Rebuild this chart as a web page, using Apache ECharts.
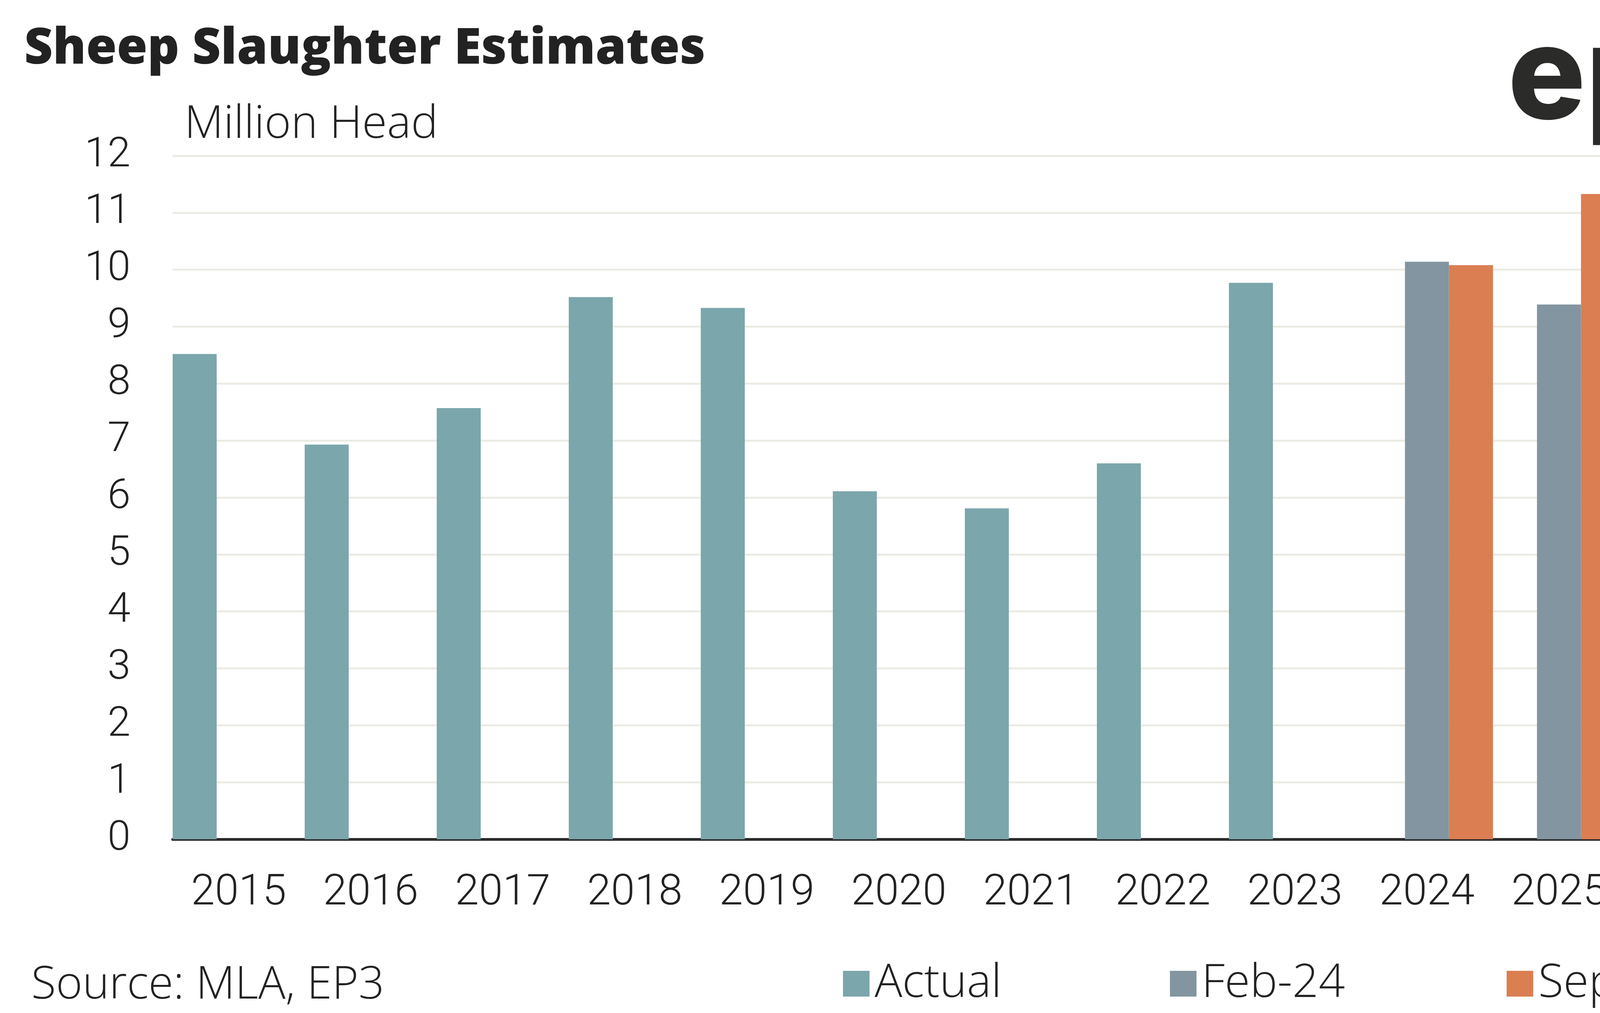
<!DOCTYPE html>
<html>
<head>
<meta charset="utf-8">
<script src="https://cdn.jsdelivr.net/npm/echarts@6/dist/echarts.min.js"></script>
<style>
html,body{margin:0;padding:0;background:#fff;overflow:hidden;}
#c{width:4675px;height:2594px;}
</style>
</head>
<body>
<div id="c"></div>
<script>
const categories = ['2015','2016','2017','2018','2019','2020','2021','2022','2023','2024','2025','2026'];
const actual = [8.52, 6.93, 7.57, 9.52, 9.33, 6.11, 5.81, 6.60, 9.77, null, null, null];
const feb24 = [null, null, null, null, null, null, null, null, null, 10.14, 9.39, 8.06];
const sep24 = [null, null, null, null, null, null, null, null, null, 10.08, 11.33, 11.15];
const seriesNames = ['Actual', 'Feb-24', 'Sep-24'];
const yTicks = [0,1,2,3,4,5,6,7,8,9,10,11,12];

const NUMFONT = 'Roboto';
const WORDFONT = 'Open Sans';
const TXT = '#222222';
const legendLefts = [2153, 2990, 3852];
const chart = echarts.init(document.getElementById('c'));
chart.setOption({
  backgroundColor: '#ffffff',
  animation: false,
  grid: { left: 442, right: 177, top: 399, bottom: 2594 - 2149, containLabel: false },
  legend: seriesNames.map((n, i) => ({
    left: legendLefts[i], top: 2455,
    itemWidth: 68, itemHeight: 66,
    icon: 'rect',
    textStyle: { fontFamily: WORDFONT, fontWeight: 300, fontSize: 118, color: TXT, padding: [0,0,0,8] },
    data: [n]
  })),
  xAxis: {
    type: 'category',
    data: categories,
    axisLine: { show: true, lineStyle: { color: '#2b2b2b', width: 7 } },
    axisTick: { show: false },
    axisLabel: { fontFamily: NUMFONT, fontWeight: 300, fontSize: 110, color: TXT, margin: 84 },
    splitLine: { show: false }
  },
  yAxis: {
    type: 'value', min: 0, max: 12, interval: 1,
    axisLine: { show: false }, axisTick: { show: false },
    axisLabel: { fontFamily: NUMFONT, fontWeight: 300, fontSize: 106, color: TXT, margin: 108,
      formatter: v => yTicks.includes(v) ? String(v) : '' },
    splitLine: { show: true, lineStyle: { color: '#ecebe3', width: 5 } }
  },
  series: [
    { name: seriesNames[0], type: 'bar', data: actual, barGap: '0%', barCategoryGap: '0%', itemStyle: { color: '#7ba6ab' } },
    { name: seriesNames[1], type: 'bar', data: feb24, barGap: '0%', barCategoryGap: '0%', itemStyle: { color: '#8295a0' } },
    { name: seriesNames[2], type: 'bar', data: sep24, barGap: '0%', barCategoryGap: '0%', itemStyle: { color: '#db7e52' } }
  ],
  graphic: [
    { type: 'text', left: 62, top: 63, style: { text: 'Sheep Slaughter Estimates', fill: TXT, fontFamily: WORDFONT, fontWeight: 800, fontSize: 127 } },
    { type: 'text', left: 472, top: 262, style: { text: 'Million Head', fill: TXT, fontFamily: WORDFONT, fontWeight: 300, fontSize: 116 } },
    { type: 'text', left: 80, top: 2466, style: { text: 'Source: MLA, EP3', fill: TXT, fontFamily: WORDFONT, fontWeight: 300, fontSize: 116 } },
    { type: 'text', left: 3860, top: 38, style: { text: 'ep3', fill: '#2b2b29', fontFamily: 'Inter', fontWeight: 800, fontSize: 332 } }
  ]
});
</script>
</body>
</html>
